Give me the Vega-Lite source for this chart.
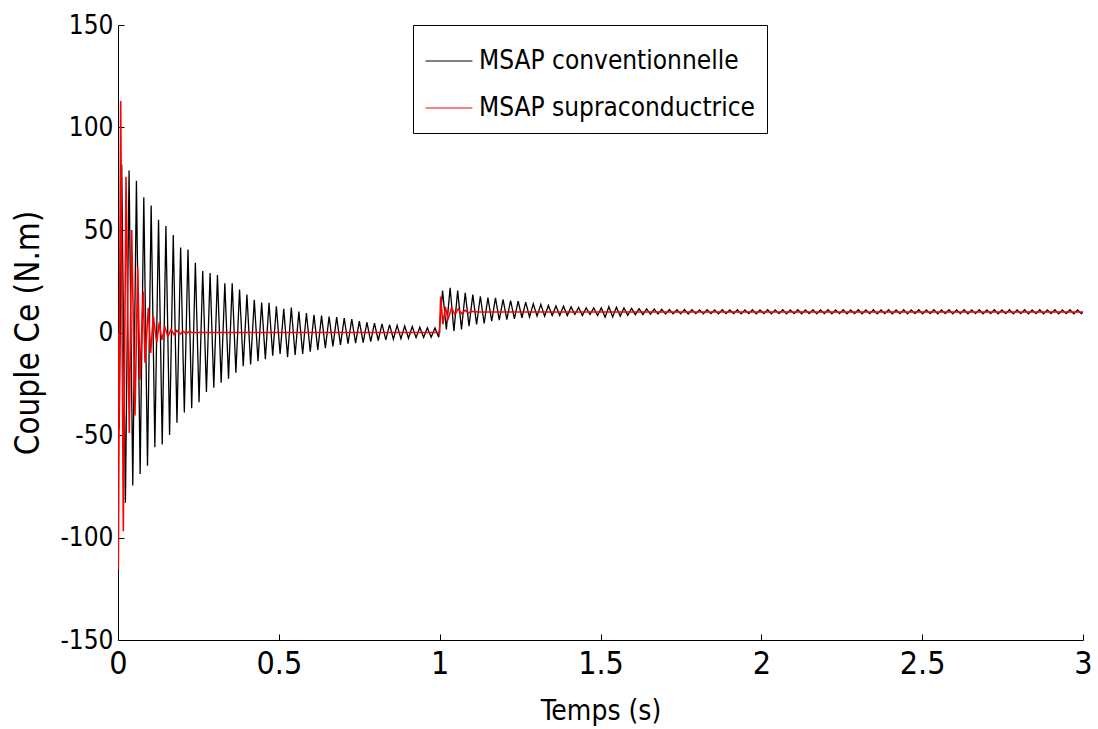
{
  "$schema": "https://vega.github.io/schema/vega-lite/v6.json",
  "width": 965,
  "height": 615,
  "autosize": {"type": "none"},
  "padding": {"left": 118, "top": 25, "right": 15, "bottom": 89},
  "background": "white",
  "datasets": {
    "conv": [
      {"t":0,"v":0},{"t":0.004,"v":-47},{"t":0.0115,"v":82},{"t":0.023,"v":-83},{"t":0.0344,"v":79},{"t":0.0459,"v":-74.6},{"t":0.0573,"v":74},{"t":0.0688,"v":-69},{"t":0.0802,"v":66},{"t":0.0917,"v":-65},{"t":0.1031,"v":62},{"t":0.1146,"v":-56},{"t":0.126,"v":55},{"t":0.1375,"v":-54.6},{"t":0.1489,"v":52},{"t":0.1604,"v":-50},{"t":0.1718,"v":47.5},{"t":0.1833,"v":-44},{"t":0.1947,"v":41.5},{"t":0.2062,"v":-39},{"t":0.2176,"v":40.5},{"t":0.2291,"v":-37},{"t":0.2405,"v":34},{"t":0.252,"v":-34},{"t":0.2634,"v":30},{"t":0.2749,"v":-29},{"t":0.2863,"v":29},{"t":0.2978,"v":-27},{"t":0.3092,"v":28},{"t":0.3207,"v":-24.5},{"t":0.3321,"v":24},{"t":0.3436,"v":-22.5},{"t":0.355,"v":24},{"t":0.3665,"v":-19.6},{"t":0.3779,"v":21},{"t":0.3894,"v":-16.5},{"t":0.4008,"v":18.5},{"t":0.4123,"v":-15.6},{"t":0.4237,"v":16},{"t":0.4352,"v":-14},{"t":0.4466,"v":14.6},{"t":0.4581,"v":-13},{"t":0.4695,"v":14.5},{"t":0.481,"v":-11.3},{"t":0.4924,"v":12.8},{"t":0.5039,"v":-10.5},{"t":0.5153,"v":11.5},{"t":0.5271,"v":-12},{"t":0.5388,"v":12.2},{"t":0.5506,"v":-11},{"t":0.5623,"v":10.2},{"t":0.5741,"v":-10.4},{"t":0.5858,"v":9.5},{"t":0.5976,"v":-9.3},{"t":0.6093,"v":8.6},{"t":0.6211,"v":-8.5},{"t":0.6328,"v":8.2},{"t":0.6446,"v":-7.6},{"t":0.6563,"v":7.8},{"t":0.6681,"v":-6.8},{"t":0.6798,"v":7.5},{"t":0.6916,"v":-6},{"t":0.7033,"v":7},{"t":0.7151,"v":-5.5},{"t":0.7268,"v":6.5},{"t":0.7386,"v":-5.2},{"t":0.7503,"v":5.6},{"t":0.7621,"v":-4.9},{"t":0.7738,"v":5},{"t":0.7856,"v":-4.4},{"t":0.7973,"v":4.6},{"t":0.8091,"v":-3.9},{"t":0.8208,"v":4.2},{"t":0.8326,"v":-3.6},{"t":0.8443,"v":3.8},{"t":0.8561,"v":-3.3},{"t":0.8678,"v":3.5},{"t":0.8796,"v":-3},{"t":0.8913,"v":3.2},{"t":0.9031,"v":-2.8},{"t":0.9148,"v":2.9},{"t":0.9266,"v":-2.5},{"t":0.9383,"v":2.6},{"t":0.9501,"v":-2.4},{"t":0.9618,"v":2.3},{"t":0.9736,"v":-2.3},{"t":0.9853,"v":2.2},{"t":0.9971,"v":-2.3},
      {"t":1.009,"v":20.5},{"t":1.0208,"v":1.5},{"t":1.0325,"v":21.8},{"t":1.0443,"v":0.7},{"t":1.056,"v":20.5},{"t":1.0678,"v":1.5},{"t":1.0795,"v":19.4},{"t":1.0913,"v":3.1},{"t":1.103,"v":18.5},{"t":1.1148,"v":3.9},{"t":1.1265,"v":17.7},{"t":1.1383,"v":4.4},{"t":1.15,"v":17},{"t":1.1618,"v":5.5},{"t":1.1735,"v":16.9},{"t":1.1853,"v":6},{"t":1.197,"v":16.1},{"t":1.2088,"v":6.3},{"t":1.2205,"v":15.5},{"t":1.2323,"v":6.7},{"t":1.244,"v":15.3},{"t":1.2558,"v":7.2},{"t":1.2675,"v":14.8},{"t":1.2793,"v":7.6},{"t":1.291,"v":14},{"t":1.3028,"v":8},{"t":1.3145,"v":13.7},{"t":1.3263,"v":8},{"t":1.338,"v":13.2},{"t":1.3498,"v":8.3},{"t":1.3615,"v":12.9},{"t":1.3733,"v":8.3},{"t":1.385,"v":12.8},{"t":1.3968,"v":8.3},{"t":1.4085,"v":12.5},{"t":1.4203,"v":8.8},{"t":1.432,"v":12.2},{"t":1.4438,"v":8.3},{"t":1.4555,"v":12},{"t":1.4673,"v":8.8},{"t":1.479,"v":12},{"t":1.4908,"v":8.3},{"t":1.5025,"v":12},{"t":1.5143,"v":7.5},{"t":1.526,"v":12.6},{"t":1.5378,"v":7.6},{"t":1.5495,"v":12.3},{"t":1.5613,"v":8},{"t":1.573,"v":12},{"t":1.5848,"v":8.4},{"t":1.5965,"v":11.8},{"t":1.6083,"v":8.7},{"t":1.62,"v":11.6},{"t":1.6318,"v":8.8},{"t":1.6435,"v":11.5},{"t":1.6553,"v":8.9},{"t":1.667,"v":11.4},{"t":1.6788,"v":9},{"t":1.6905,"v":11.3},{"t":1.7023,"v":9},{"t":1.714,"v":11.2},{"t":1.7258,"v":9.1},
      {"t":1.7375,"v":11.1},{"t":1.7493,"v":9.1},{"t":1.761,"v":11.2},{"t":1.7728,"v":9.0},{"t":1.7845,"v":11.1},{"t":1.7963,"v":9.2},{"t":1.808,"v":11.0},{"t":1.8198,"v":9.1},{"t":1.8315,"v":11.1},{"t":1.8433,"v":9.2},{"t":1.855,"v":11.0},{"t":1.8668,"v":9.1},{"t":1.8785,"v":11.1},{"t":1.8903,"v":9.2},{"t":1.902,"v":11.0},{"t":1.9138,"v":9.2},{"t":1.9255,"v":11.1},{"t":1.9373,"v":9.1},{"t":1.949,"v":11.0},{"t":1.9608,"v":9.2},{"t":1.9725,"v":11.1},{"t":1.9843,"v":9.1},{"t":1.996,"v":11.0},{"t":2.0078,"v":9.2},{"t":2.0195,"v":11.1},{"t":2.0313,"v":9.1},{"t":2.043,"v":11.0},{"t":2.0548,"v":9.2},{"t":2.0665,"v":11.1},{"t":2.0783,"v":9.1},{"t":2.09,"v":11.0},{"t":2.1018,"v":9.2},{"t":2.1135,"v":11.1},{"t":2.1253,"v":9.1},{"t":2.137,"v":11.0},{"t":2.1488,"v":9.2},{"t":2.1605,"v":11.1},{"t":2.1723,"v":9.1},{"t":2.184,"v":11.0},{"t":2.1958,"v":9.2},{"t":2.2075,"v":11.1},{"t":2.2193,"v":9.1},{"t":2.231,"v":11.0},{"t":2.2428,"v":9.2},{"t":2.2545,"v":11.1},{"t":2.2663,"v":9.1},{"t":2.278,"v":11.0},{"t":2.2898,"v":9.2},{"t":2.3015,"v":11.1},{"t":2.3133,"v":9.1},{"t":2.325,"v":11.0},{"t":2.3368,"v":9.2},{"t":2.3485,"v":11.1},{"t":2.3603,"v":9.1},{"t":2.372,"v":11.0},{"t":2.3838,"v":9.2},{"t":2.3955,"v":11.1},{"t":2.4073,"v":9.1},{"t":2.419,"v":11.0},{"t":2.4308,"v":9.2},{"t":2.4425,"v":11.1},{"t":2.4543,"v":9.1},{"t":2.466,"v":11.0},{"t":2.4778,"v":9.2},{"t":2.4895,"v":11.1},{"t":2.5013,"v":9.1},{"t":2.513,"v":11.0},{"t":2.5248,"v":9.2},{"t":2.5365,"v":11.1},{"t":2.5483,"v":9.1},{"t":2.56,"v":11.0},{"t":2.5718,"v":9.2},{"t":2.5835,"v":11.1},{"t":2.5953,"v":9.1},{"t":2.607,"v":11.0},{"t":2.6188,"v":9.2},{"t":2.6305,"v":11.1},{"t":2.6423,"v":9.1},{"t":2.654,"v":11.0},{"t":2.6658,"v":9.2},{"t":2.6775,"v":11.1},{"t":2.6893,"v":9.1},{"t":2.701,"v":11.0},{"t":2.7128,"v":9.2},{"t":2.7245,"v":11.1},{"t":2.7363,"v":9.1},{"t":2.748,"v":11.0},{"t":2.7598,"v":9.2},{"t":2.7715,"v":11.1},{"t":2.7833,"v":9.1},{"t":2.795,"v":11.0},{"t":2.8068,"v":9.2},{"t":2.8185,"v":11.1},{"t":2.8303,"v":9.1},{"t":2.842,"v":11.0},{"t":2.8538,"v":9.2},{"t":2.8655,"v":11.1},{"t":2.8773,"v":9.1},{"t":2.889,"v":11.0},{"t":2.9008,"v":9.2},{"t":2.9125,"v":11.1},{"t":2.9243,"v":9.1},{"t":2.936,"v":11.0},{"t":2.9478,"v":9.2},{"t":2.9595,"v":11.1},{"t":2.9713,"v":9.1},{"t":2.983,"v":11.0},{"t":2.9948,"v":9.2},{"t":3.0,"v":10}
    ],
    "supra": [
      {"t":0,"v":0},{"t":0.001,"v":-115.6},{"t":0.0084,"v":112.9},{"t":0.0165,"v":-97},{"t":0.0249,"v":76},{"t":0.0351,"v":-49},{"t":0.0426,"v":50},{"t":0.0528,"v":-40.5},{"t":0.0612,"v":32},{"t":0.0684,"v":-23},{"t":0.0786,"v":20},{"t":0.0839,"v":-14.7},{"t":0.0942,"v":12},{"t":0.1016,"v":-10},{"t":0.1097,"v":8},{"t":0.1203,"v":-5},{"t":0.1284,"v":5},{"t":0.136,"v":-3.6},{"t":0.146,"v":2.5},{"t":0.155,"v":-2},{"t":0.165,"v":1.5},{"t":0.174,"v":-1},{"t":0.183,"v":1},{"t":0.193,"v":-0.8},{"t":0.202,"v":0.6},{"t":0.212,"v":-0.5},{"t":0.221,"v":0.4},{"t":0.23,"v":0},{"t":1.0,"v":0},{"t":1.003,"v":17.5},{"t":1.01,"v":4},{"t":1.018,"v":12.5},{"t":1.026,"v":6.5},{"t":1.037,"v":12},{"t":1.047,"v":8.8},{"t":1.058,"v":11.5},{"t":1.068,"v":9.2},{"t":1.079,"v":10.8},{"t":1.09,"v":9.6},{"t":1.1,"v":10.3},{"t":1.12,"v":10},{"t":3.0,"v":10}
    ]
  },
  "layer": [
    {
      "data": {"name": "conv"},
      "mark": {"type": "line", "strokeWidth": 1.3, "clip": true},
      "encoding": {
        "x": {"field": "t", "type": "quantitative", "scale": {"domain": [0, 3], "nice": false},
          "axis": {"title": "Temps (s)", "values": [0, 0.5, 1, 1.5, 2, 2.5, 3], "labelExpr": "'' + datum.value", "tickSize": -6, "labelPadding": 14, "labelFontSize": 32, "labelFlush": false, "labelOverlap": false, "titleFontSize": 28, "titlePadding": 18}},
        "y": {"field": "v", "type": "quantitative", "scale": {"domain": [-150, 150], "nice": false},
          "axis": {"title": "Couple Ce (N.m)", "values": [-150, -100, -50, 0, 50, 100, 150], "labelExpr": "'' + datum.value", "tickSize": -6, "labelPadding": 11, "labelFontSize": 26, "labelFlush": false, "labelOverlap": false, "titleFontSize": 33, "titlePadding": 14}},
        "color": {"datum": "MSAP conventionnelle", "type": "nominal",
          "scale": {"domain": ["MSAP conventionnelle", "MSAP supraconductrice"], "range": ["#000000", "#ff0000"]},
          "legend": {"title": null, "orient": "none", "legendX": 295, "legendY": 0, "symbolType": "stroke", "symbolSize": 2200, "symbolStrokeWidth": 1, "labelFontSize": 26, "labelLimit": 400, "labelOffset": 6, "rowPadding": 10, "padding": 12, "strokeColor": "#000000", "fillColor": "#ffffff", "cornerRadius": 0}}
      }
    },
    {
      "data": {"name": "supra"},
      "mark": {"type": "line", "strokeWidth": 1.6, "clip": true},
      "encoding": {
        "x": {"field": "t", "type": "quantitative"},
        "y": {"field": "v", "type": "quantitative"},
        "color": {"datum": "MSAP supraconductrice", "type": "nominal"}
      }
    }
  ],
  "config": {
    "view": {"stroke": null},
    "font": "DejaVu Sans Condensed, DejaVu Sans, sans-serif",
    "axis": {"grid": false, "domainColor": "#000000", "domainWidth": 1, "tickColor": "#000000", "tickWidth": 1, "labelColor": "#000000", "titleColor": "#000000", "labelFont": "DejaVu Sans Condensed, DejaVu Sans, sans-serif", "titleFont": "DejaVu Sans Condensed, DejaVu Sans, sans-serif", "titleFontWeight": "normal"},
    "legend": {"labelFont": "DejaVu Sans Condensed, DejaVu Sans, sans-serif", "labelColor": "#000000"}
  }
}
